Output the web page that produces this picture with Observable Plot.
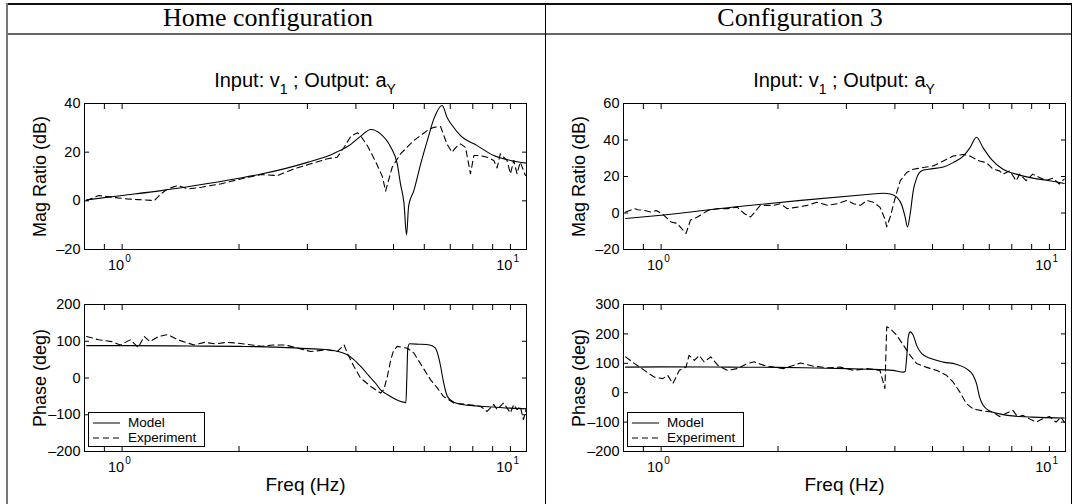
<!DOCTYPE html>
<html><head><meta charset="utf-8">
<script src="https://cdn.jsdelivr.net/npm/d3@7"></script>
<script src="https://cdn.jsdelivr.net/npm/@observablehq/plot@0.6"></script>
<style>
body{margin:0;background:#fff;}
#page{position:relative;width:1073px;height:504px;overflow:hidden;font-family:"Liberation Sans",Arial,sans-serif;color:#000;}
.hl{position:absolute;height:0;border-top:1px solid #000;}
.vl{position:absolute;width:0;border-left:1px solid #000;}
.hdr{position:absolute;top:5px;font-family:"Liberation Serif",serif;font-size:26px;transform:translateX(-50%);white-space:nowrap;line-height:1;}
.ttl{position:absolute;top:70px;font-size:20px;transform:translateX(-50%);white-space:nowrap;line-height:1;}
.ttl sub{font-size:14px;vertical-align:-7px;line-height:0;}
.plot{position:absolute;}
.legend{position:absolute;width:115px;height:33px;border:1px solid #000;background:#fff;font-size:13.5px;}
.legend .row{position:absolute;left:0;height:15px;line-height:15px;}
.legend svg{position:absolute;left:4px;top:7px;}
.legend span{position:absolute;left:39px;top:0;white-space:nowrap;}
</style></head>
<body><div id="page"></div>
<script>
// ---------- data (frequency Hz, value) ----------
const headers = ["Home configuration", "Configuration 3"];
const xTickMajor = [1, 10];
const xTickMinor = [0.9, 2, 3, 4, 5, 6, 7, 8, 9];
const legendLabels = ["Model", "Experiment"];

const homeMagModel = [[0.81,0.4],[1.0,2.2],[1.26,4.2],[1.53,6.2],[2.0,9.3],[2.28,11.0],[3.0,15.8],[3.51,19.5],[3.88,23.2],[4.11,26.5],[4.37,29.3],[4.63,27.5],[4.92,22.0],[5.11,15.3],[5.21,7.0],[5.32,-1.0],[5.40,-14.0],[5.47,-2.0],[5.64,4.2],[5.89,15.9],[6.11,24.8],[6.35,33.7],[6.67,39.2],[6.88,34.0],[7.03,31.7],[7.44,26.8],[8.21,22.7],[9.06,18.6],[10.0,16.6],[11.0,15.5]];
const homeMagExp = [[0.81,0.1],[0.87,2.2],[0.94,1.5],[1.03,0.8],[1.10,0.5],[1.21,0.1],[1.26,2.9],[1.31,4.9],[1.39,6.3],[1.48,4.9],[1.60,5.6],[1.80,7.0],[2.02,9.0],[2.28,10.8],[2.51,10.4],[2.77,13.1],[3.06,15.2],[3.38,17.3],[3.58,17.9],[3.73,22.0],[3.88,26.5],[4.04,28.0],[4.11,26.8],[4.28,22.7],[4.50,16.0],[4.68,10.0],[4.77,4.0],[4.96,13.8],[5.21,19.3],[5.64,24.8],[6.11,28.9],[6.35,30.2],[6.61,30.5],[6.86,23.4],[7.07,20.0],[7.29,22.5],[7.44,23.4],[7.66,22.0],[7.89,11.1],[8.05,18.6],[8.37,18.6],[8.71,17.9],[9.06,16.6],[9.24,13.5],[9.42,19.3],[9.80,16.6],[10.0,11.1],[10.2,16.6],[10.4,11.1],[10.6,15.9],[10.93,10.4]];
const homePhaseModel = [[0.81,88],[1.0,88],[1.5,87],[2.0,86],[2.5,84],[3.0,80],[3.38,77],[3.6,72],[3.8,63],[3.95,50],[4.11,32],[4.25,15],[4.37,0],[4.5,-15],[4.63,-32],[4.82,-45],[5.0,-55],[5.2,-63],[5.32,-66],[5.38,-67],[5.41,0],[5.44,80],[5.5,93],[5.8,92],[6.2,90],[6.4,82],[6.5,65],[6.61,32],[6.72,-10],[6.88,-50],[7.15,-66],[7.5,-72],[8.2,-76],[9.06,-79],[10.0,-82],[11.0,-84]];
const homePhaseExp = [[0.81,113],[0.87,104],[0.94,99],[0.99,90],[1.05,104],[1.10,83],[1.14,113],[1.18,99],[1.24,113],[1.31,118],[1.39,104],[1.48,95],[1.53,90],[1.63,97],[1.74,93],[1.86,97],[1.98,95],[2.16,90],[2.28,86],[2.45,90],[2.63,90],[2.84,81],[3.06,72],[3.38,77],[3.58,72],[3.73,90],[3.8,68],[3.95,32],[4.11,0],[4.37,-23],[4.63,-41],[4.72,-32],[4.82,4],[4.92,50],[5.0,75],[5.11,86],[5.43,81],[5.64,68],[5.98,25],[6.23,-5],[6.48,-27],[6.72,-50],[7.15,-68],[7.74,-72],[8.37,-77],[8.71,-91],[9.06,-72],[9.24,-86],[9.6,-68],[10.0,-95],[10.2,-72],[10.4,-86],[10.6,-77],[10.8,-113],[11.0,-82]];

const cfgMagModel = [[0.81,-3.0],[1.0,-1.2],[1.54,3.3],[2.29,6.9],[3.39,10.1],[3.74,10.8],[3.89,10.4],[4.05,8.6],[4.17,4.1],[4.25,-2.2],[4.31,-7.6],[4.38,-0.4],[4.46,12.3],[4.55,19.1],[4.69,23.1],[4.88,24.0],[5.33,25.2],[5.65,27.6],[6.0,31.2],[6.24,35.7],[6.49,41.5],[6.75,35.7],[7.09,29.4],[7.59,24.0],[8.21,21.3],[9.06,19.1],[10.0,17.7],[10.92,16.2]];
const cfgMagExp = [[0.81,0.5],[0.854,2.4],[0.871,1.8],[0.906,1.4],[0.943,0.5],[0.971,1.4],[1.01,-0.7],[1.06,-4.9],[1.10,-5.7],[1.159,-11.2],[1.19,-3.9],[1.24,-2.2],[1.32,1.4],[1.40,2.4],[1.48,2.4],[1.57,3.2],[1.64,-0.4],[1.70,-2.2],[1.80,4.2],[1.95,4.2],[2.03,5.1],[2.11,2.4],[2.24,3.2],[2.38,4.2],[2.52,5.9],[2.68,4.2],[2.84,5.1],[3.01,6.9],[3.13,5.1],[3.26,4.2],[3.39,6.9],[3.52,5.9],[3.66,3.2],[3.78,-3.9],[3.81,-7.6],[3.89,-2.2],[4.01,8.6],[4.13,17.7],[4.29,22.2],[4.46,24.0],[4.73,24.9],[5.02,25.8],[5.33,28.5],[5.65,31.2],[6.0,32.1],[6.24,31.2],[6.61,28.5],[6.88,27.6],[7.16,24.0],[7.44,23.1],[7.59,21.3],[7.90,23.1],[8.21,17.7],[8.38,21.3],[8.71,17.7],[9.06,21.3],[9.43,19.5],[9.80,17.7],[10.2,19.1],[10.6,15.9],[10.92,18.6]];
const cfgPhaseModel = [[0.81,87],[1.0,88],[1.5,87],[2.0,86],[2.5,84],[3.0,82],[3.39,80],[3.95,76],[4.21,70],[4.25,72],[4.29,121],[4.33,190],[4.38,207],[4.46,195],[4.55,161],[4.69,133],[4.95,116],[5.33,104],[5.75,97],[6.11,82],[6.36,59],[6.49,31],[6.61,-15],[6.75,-43],[7.02,-62],[7.44,-72],[8.38,-81],[9.06,-83],[10.92,-86]];
const cfgPhaseExp = [[0.81,122],[0.854,99],[0.906,76],[0.96,53],[1.01,48],[1.04,59],[1.072,31],[1.114,76],[1.159,87],[1.18,127],[1.218,110],[1.254,127],[1.29,105],[1.343,122],[1.40,93],[1.48,76],[1.57,82],[1.668,99],[1.735,105],[1.84,93],[1.95,87],[2.07,82],[2.286,101],[2.47,90],[2.68,85],[2.89,87],[3.13,76],[3.39,82],[3.66,76],[3.72,42],[3.77,14],[3.79,120],[3.81,224],[3.89,218],[4.045,195],[4.21,161],[4.38,127],[4.55,99],[4.81,87],[5.12,76],[5.43,59],[5.65,36],[5.88,2],[6.11,-37],[6.36,-55],[6.75,-62],[7.16,-66],[7.44,-81],[7.74,-70],[8.05,-60],[8.29,-83],[8.54,-77],[8.89,-89],[9.24,-100],[9.61,-89],[10.0,-81],[10.4,-100],[10.7,-83],[10.92,-100]];

const homeMagTicks = [-20, 0, 20, 40];
const homePhaseTicks = [-200, -100, 0, 100, 200];
const cfgMagTicks = [-20, 0, 20, 40, 60];
const cfgPhaseTicks = [-200, -100, 0, 100, 200, 300];

// ---------- drawing ----------
const page = document.getElementById("page");
function el(tag, cls, style, html) {
  const e = document.createElement(tag);
  if (cls) e.className = cls;
  if (style) e.setAttribute("style", style);
  if (html != null) e.innerHTML = html;
  page.appendChild(e);
  return e;
}
// table lines
el("div", "hl", "left:6px;top:3px;width:1066px;border-top:2px solid #111;");
el("div", "hl", "left:6px;top:33px;width:1066px;border-top:2px solid #666;");
el("div", "vl", "left:6px;top:3px;height:501px;border-left:2px solid #777;");
el("div", "vl", "left:545px;top:3px;height:501px;border-left:1px solid #000;");
el("div", "vl", "left:1071px;top:3px;height:501px;border-left:1px solid #000;");
el("div", "hdr", "left:268px;", headers[0]);
el("div", "hdr", "left:800px;", headers[1]);
el("div", "ttl", "left:305px;", "Input: v<sub>1</sub> ; Output: a<sub>Y</sub>");
el("div", "ttl", "left:844px;", "Input: v<sub>1</sub> ; Output: a<sub>Y</sub>");

const toObj = arr => arr.map(([f, v]) => ({f, v}));
const yFmt = d => d < 0 ? "\u2013" + (-d) : String(d);

function panel({model, exp, yDomain, yTicks, yLabel, xLabel, width, height, mL, mR, mT, mB}) {
  const all = [...xTickMinor, ...xTickMajor];
  const marks = [
    Plot.frame({stroke: "black", strokeWidth: 1}),
    Plot.axisY({ticks: yTicks, tickSize: -5, tickPadding: 9, label: null, tickFormat: yFmt}),
    Plot.axisY({anchor: "right", ticks: yTicks, tickSize: -5, tickFormat: () => "", label: null}),
    Plot.axisX({ticks: all, tickSize: -5, tickFormat: () => "", label: null}),
    Plot.axisX({anchor: "top", ticks: all, tickSize: -5, tickFormat: () => "", label: null}),
    Plot.text(xTickMajor, {x: d => d, frameAnchor: "bottom", text: () => "10", textAnchor: "end", lineAnchor: "top", dx: 2, dy: 10, fontSize: 14.5, fill: "black"}),
    Plot.text(xTickMajor, {x: d => d, frameAnchor: "bottom", text: d => String(Math.round(Math.log10(d))), textAnchor: "start", lineAnchor: "top", dx: 3, dy: 5, fontSize: 10, fill: "black"}),
    Plot.line(toObj(model), {x: "f", y: "v", stroke: "black", strokeWidth: 1.1, curve: "monotone-x"}),
    Plot.line(toObj(exp), {x: "f", y: "v", stroke: "black", strokeWidth: 1.1, strokeDasharray: "6,4"}),
    Plot.text([yLabel], {frameAnchor: "left", text: d => d, rotate: -90, dx: -44, fontSize: 18, fill: "black", textAnchor: "middle", lineAnchor: "middle"})
  ];
  if (xLabel) marks.push(Plot.text([xLabel], {frameAnchor: "bottom", text: d => d, dy: 33, fontSize: 19, fill: "black", lineAnchor: "middle"}));
  return Plot.plot({
    width, height, marginLeft: mL, marginRight: mR, marginTop: mT, marginBottom: mB,
    x: {type: "log", domain: [0.8, 11], label: null},
    y: {domain: yDomain, label: null},
    style: {fontFamily: "'Liberation Sans', Arial, sans-serif", fontSize: "14.5px", color: "black", background: "transparent", overflow: "visible"},
    marks
  });
}
function place(node, left, top) {
  const d = el("div", "plot", `left:${left}px;top:${top}px;`);
  d.appendChild(node);
}
place(panel({model: homeMagModel, exp: homeMagExp, yDomain: [-20, 40], yTicks: homeMagTicks, yLabel: "Mag Ratio (dB)", width: 545, height: 215, mL: 84, mR: 19, mT: 43, mB: 26}), 0, 60);
place(panel({model: homePhaseModel, exp: homePhaseExp, yDomain: [-200, 200], yTicks: homePhaseTicks, yLabel: "Phase (deg)", xLabel: "Freq (Hz)", width: 545, height: 214, mL: 84, mR: 19, mT: 14, mB: 53}), 0, 290);
place(panel({model: cfgMagModel, exp: cfgMagExp, yDomain: [-20, 60], yTicks: cfgMagTicks, yLabel: "Mag Ratio (dB)", width: 528, height: 215, mL: 78, mR: 8, mT: 43, mB: 26}), 545, 60);
place(panel({model: cfgPhaseModel, exp: cfgPhaseExp, yDomain: [-200, 300], yTicks: cfgPhaseTicks, yLabel: "Phase (deg)", xLabel: "Freq (Hz)", width: 528, height: 214, mL: 78, mR: 8, mT: 14, mB: 53}), 545, 290);

function legend(left, top) {
  const box = el("div", "legend", `left:${left}px;top:${top}px;`);
  legendLabels.forEach((lab, i) => {
    const row = document.createElement("div");
    row.className = "row";
    row.style.top = (2 + i * 15) + "px";
    row.style.width = "115px";
    row.innerHTML = `<svg width="30" height="2" style="overflow:visible"><line x1="0" x2="27" y1="1" y2="1" stroke="black" stroke-width="1" ${i ? 'stroke-dasharray="6,4"' : ''}/></svg><span>${lab}</span>`;
    box.appendChild(row);
  });
}
legend(88, 412);
legend(627, 412);
</script></body></html>
